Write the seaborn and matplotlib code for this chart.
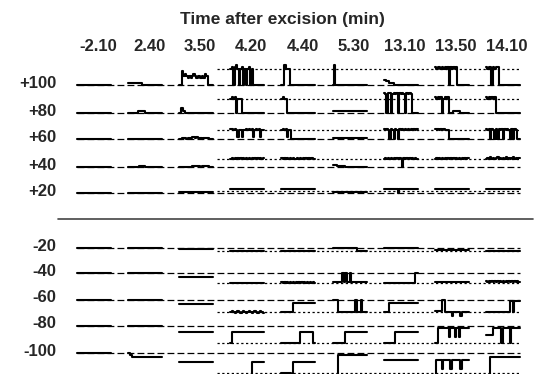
import pandas as pd
import matplotlib.pyplot as plt
import seaborn as sns

# ------------------ data ------------------
times = ["-2.10", "2.40", "3.50", "4.20", "4.40", "5.30", "13.10", "13.50", "14.10"]
voltages = ["+100", "+80", "+60", "+40", "+20", "-20", "-40", "-60", "-80", "-100"]

# each trace: one char per time bin, 0 = closed (dashed), 9 = open (dotted), base 36 (a, b.. above open)
trace_p100 = ["000000000000000000000000", "111111111100000000000000", "008565454565455454650000",
              "9a0ab909a0909a0900000000", "00b999000000000000000000", "0b0000000000000000000000",
              "332211100000000000000000", "a9aa9a9a9a0a9a9a00000000", "a9aa0a9aa000000000000000"]
trace_p80 = ["000000000000000000000000", "000000011111000000000000", "033100000000000000000000",
             "9a9a09990000000000000000", "9a9900000000000000000000", "111111111111111111111111",
             "dc0dd0cdcd0dcdc0dcdc0000", "a9a9a09a9a00011111000000", "a9a9a9a00000000000000000"]
trace_p60 = ["000000000000000000000000", "000000000000000000000000", "001110111221211101111000",
             "aa9a9299299a9a9a29a9a299", "9a9a29900000000000000000", "111111111111111111111111",
             "a9a90a90a90a9a9a9a9a9a9a", "aaa9a9a99900000000000000", "a9a0a90a0a9a0a9a90a0a900"]
trace_p40 = ["000000000000000000000000", "000000001111000000000000", "000000000111111011111000",
             "9a9a9a9a9a9a9a9a9a9a9a9a", "a9a9a9a9a99a9a9a9a9a9a99", "222111111000000000000000",
             "9a9a9a9a9a9a90a9a9a9a9a9", "9a9a9a9a9a9a9a9a9a9a9a9a", "9a9b9a9ab9a9a9b9a9ab9a9a"]
trace_p20 = ["000000000000000000000000", "000000000000000000000000", "444444444444444444444444",
             "gggggggggggggggggggggggg", "gggggggggggggggggggggggg", "444444444444444444444444",
             "gggggggggg0ggggggggggggg", "gggggggggggggggggggggggg", "gggggggggggggggggggggggg"]
trace_m20 = ["000000000000000000000000", "000000000000000000000000", "333333333333333333333333",
             "999999999999999999999999", "888888888888888888888888", "000000000000000009999999",
             "000000000000000000000000", "777777777777777777777777", "888888888888888888888888"]
trace_m40 = ["000000000000000000000000", "000000000000000000000000", "444444444444444444444444",
             "999999999999999999999999", "898989898989898989898989", "888888808088088888888888",
             "999999999999999999999900", "888888888888888888888888", "787878787878787878787878"]
trace_m60 = ["000000000000000000000000", "000000000000000000000000", "333333333333333333333333",
             "989a989a989a989a989a989a", "999999992222222222222222", "000099999999999909990999",
             "999922222222222222222222", "888880099999c99999c99999", "999999999999999991191111"]
trace_m80 = ["000000000000000000000000", "000000000000000000000000", "333333333333333333333333",
             "933333333333333333333333", "999999999999933333333399", "999999999333333333333333",
             "999999993333333333333333", "991111111161116116111111", "555551111119111119111111"]
trace_m100 = ["000000000000000000000000", "011222222222222222222222", "444444444444444444444444",
              "aaaaaaaaaaaaaaa444444444", "9999999a4444444444444444", "aaaa11111111111111111111",
              "333333333333333333333333", "a33337333337333333733333", "aaa222222222222222222222"]
traces = [trace_p100, trace_p80, trace_p60, trace_p40, trace_p20,
          trace_m20, trace_m40, trace_m60, trace_m80, trace_m100]

# ------------------ layout (figure pixels) ------------------
closed_y = [85, 113, 139, 167, 193, 248, 273, 300, 326, 353]
open_y = [69, 99, 130, 159, 191, 251, 283, 312, 343, 373]
col_x0, col_step, trace_w = 77, 51.1, 34
line_x0, line_x1, open_x0 = 77, 520, 217

rows = []
for r, v in enumerate(voltages):
    step = (open_y[r] - closed_y[r]) / 9
    for c, t in enumerate(times):
        s = traces[r][c]
        x0 = col_x0 + c * col_step
        w = trace_w / len(s)
        for i, ch in enumerate(s):
            y = closed_y[r] + int(ch, 36) * step
            rows.append((v + "_" + t, x0 + i * w, y))
            rows.append((v + "_" + t, x0 + (i + 1) * w, y))
df = pd.DataFrame(rows, columns=["trace", "x", "y"])

sns.set_style("white")
plt.rcParams["font.family"] = ["Liberation Sans", "DejaVu Sans"]

fig = plt.figure(figsize=(5.35, 3.74), dpi=100)
ax = fig.add_axes([0, 0, 1, 1])

# closed (dashed) and open (dotted) reference levels
ax.hlines(closed_y, line_x0, line_x1, colors="black", lw=0.9, linestyles=[(0, (5.5, 2.5))])
ax.hlines(open_y, open_x0, line_x1, colors="black", lw=0.9, linestyles=[(0, (1.8, 2.0))])

sns.lineplot(data=df, x="x", y="y", units="trace", estimator=None, sort=False,
             color="black", lw=1.5, legend=False, ax=ax)

# separator between depolarised and hyperpolarised rows
ax.plot([58, 533], [219, 219], color="#444444", lw=1.2)

ax.text(282, 19, "Time after excision (min)", ha="center", va="center",
        fontsize=12.5, fontweight="bold")
for c, t in enumerate(times):
    ax.text(col_x0 + c * col_step + trace_w / 2 + 4, 46, t, ha="center", va="center",
            fontsize=12, fontweight="bold")
for r, v in enumerate(voltages):
    ax.text(56, closed_y[r] - 2, v, ha="right", va="center", fontsize=12, fontweight="bold")

ax.set_xlim(0, 535)
ax.set_ylim(374, 0)
ax.axis("off")

fig.savefig("out.png", dpi=100)
